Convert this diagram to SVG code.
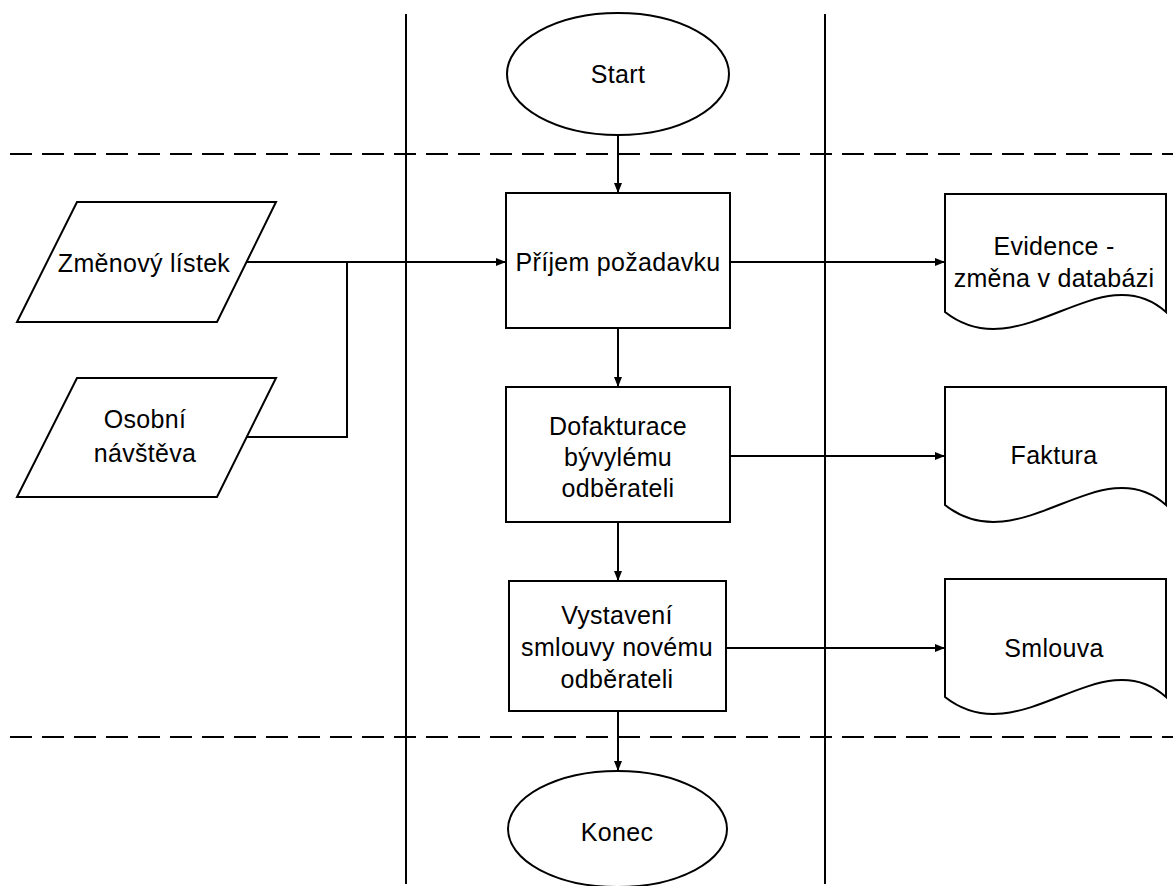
<svg xmlns="http://www.w3.org/2000/svg" width="1173" height="886" viewBox="0 0 1173 886">
<defs>
<style>
.shape{fill:#fff;stroke:#000;stroke-width:2}
.lane{stroke:#000;stroke-width:2;fill:none}
.dash{stroke:#000;stroke-width:2;fill:none;stroke-dasharray:22 10}
.conn{stroke:#000;stroke-width:2;fill:none}
text{font-family:"Liberation Sans",Arial,sans-serif;font-size:25px;fill:#000;text-anchor:middle;letter-spacing:0.3px}
</style>
<marker id="arr" viewBox="0 0 10 8" refX="10" refY="4" markerWidth="10" markerHeight="8" markerUnits="userSpaceOnUse" orient="auto">
<path d="M0,0 L10,4 L0,8 Z" fill="#000"/>
</marker>
</defs>
<rect width="1173" height="886" fill="#fff"/>
<g id="lanes">
<line class="lane" x1="406" y1="14" x2="406" y2="884"/>
<line class="lane" x1="825" y1="14" x2="825" y2="884"/>
<line class="dash" x1="10" y1="154" x2="1173" y2="154"/>
<line class="dash" x1="10" y1="737" x2="1173" y2="737"/>
</g>
<g id="connectors">
<line class="conn" x1="618" y1="135" x2="618" y2="193" marker-end="url(#arr)"/>
<line class="conn" x1="247" y1="262" x2="506" y2="262" marker-end="url(#arr)"/>
<polyline class="conn" points="247,437 347,437 347,262"/>
<line class="conn" x1="730" y1="262" x2="945" y2="262" marker-end="url(#arr)"/>
<line class="conn" x1="618" y1="328" x2="618" y2="387" marker-end="url(#arr)"/>
<line class="conn" x1="730" y1="456" x2="945" y2="456" marker-end="url(#arr)"/>
<line class="conn" x1="618" y1="522" x2="618" y2="581" marker-end="url(#arr)"/>
<line class="conn" x1="726" y1="648" x2="945" y2="648" marker-end="url(#arr)"/>
<line class="conn" x1="618" y1="711" x2="618" y2="771" marker-end="url(#arr)"/>
</g>
<g id="start">
<ellipse class="shape" cx="618" cy="74" rx="111" ry="61"/>
<text x="618" y="83">Start</text>
</g>
<g id="prijem">
<rect class="shape" x="506" y="193" width="224" height="135"/>
<text x="618" y="271">Příjem požadavku</text>
</g>
<g id="dofakturace">
<rect class="shape" x="506" y="387" width="224" height="135"/>
<text x="618" y="435">Dofakturace</text>
<text x="618" y="466">bývylému</text>
<text x="618" y="497">odběrateli</text>
</g>
<g id="vystaveni">
<rect class="shape" x="509" y="581" width="217" height="130"/>
<text x="617" y="624">Vystavení</text>
<text x="617" y="656">smlouvy novému</text>
<text x="617" y="688">odběrateli</text>
</g>
<g id="konec">
<ellipse class="shape" cx="617.5" cy="829" rx="109.5" ry="58"/>
<text x="617" y="841">Konec</text>
</g>
<g id="zmenovy">
<polygon class="shape" points="77,202 276,202 217,322 17,322"/>
<text x="144" y="272">Změnový lístek</text>
</g>
<g id="osobni">
<polygon class="shape" points="77,378 276,378 217,497 17,497"/>
<text x="145" y="428">Osobní</text>
<text x="145" y="462">návštěva</text>
</g>
<g id="evidence">
<path class="shape" d="M945,194 H1166 V312 C1100,253 1020,371 945,312 Z"/>
<text x="1054" y="255">Evidence -</text>
<text x="1054" y="287">změna v databázi</text>
</g>
<g id="faktura">
<path class="shape" d="M945,387 H1166 V505 C1100,446 1020,564 945,505 Z"/>
<text x="1054" y="464">Faktura</text>
</g>
<g id="smlouva">
<path class="shape" d="M945,579 H1166 V697 C1100,638 1020,756 945,697 Z"/>
<text x="1054" y="657">Smlouva</text>
</g>
</svg>
